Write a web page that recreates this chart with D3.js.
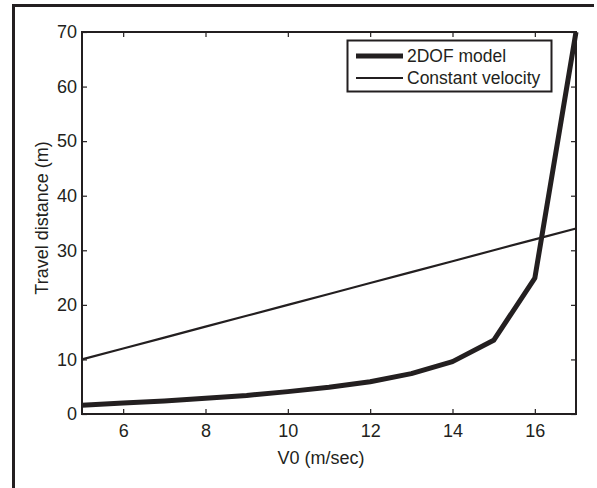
<!DOCTYPE html>
<html>
<head>
<meta charset="utf-8">
<script src="https://cdn.jsdelivr.net/npm/d3@7"></script>
<style>
  body { margin: 0; background: #fff; }
  svg { display: block; font-family: "Liberation Sans", Arial, sans-serif; }
  .tick text { font-size: 18px; fill: #231f20; }
</style>
</head>
<body>
<svg id="chart" width="597" height="488"></svg>
<script>
// data
var V0 = [5, 6, 7, 8, 9, 10, 11, 12, 13, 14, 15, 16, 17];
var DIST_2DOF = [1.6, 2.0, 2.4, 2.9, 3.4, 4.1, 4.9, 5.9, 7.4, 9.6, 13.5, 24.9, 70];
var DIST_CONST = [10, 12, 14, 16, 18, 20, 22, 24, 26, 28, 30, 32, 34];
var X_TICKS = [6, 8, 10, 12, 14, 16];
var Y_TICKS = [0, 10, 20, 30, 40, 50, 60, 70];
var SERIES_NAMES = ["2DOF model", "Constant velocity"];

var INK = "#231f20";
var LEFT = 82, RIGHT = 576, TOP = 32, BOTTOM = 414;
var TICK = 5;

var svg = d3.select("#chart");

// outer frame (only top and left edges show)
svg.append("path")
  .attr("d", "M13.5,490 L13.5,5.5 L594,5.5")
  .attr("fill", "none")
  .attr("stroke", INK)
  .attr("stroke-width", 3);

var x = d3.scaleLinear().domain([5, 17]).range([LEFT, RIGHT]);
var y = d3.scaleLinear().domain([0, 70]).range([BOTTOM, TOP]);

function style_axis(g) {
  g.select(".domain").remove();
  g.selectAll(".tick line").attr("stroke", INK).attr("stroke-width", 1.2);
}

// bottom axis (ticks point inward)
svg.append("g")
  .attr("transform", "translate(0," + BOTTOM + ")")
  .call(d3.axisBottom(x).tickValues(X_TICKS).tickSizeInner(-TICK).tickSizeOuter(0).tickPadding(10))
  .call(style_axis);

svg.append("g")
  .attr("transform", "translate(0," + TOP + ")")
  .call(d3.axisTop(x).tickValues(X_TICKS).tickSizeInner(-TICK).tickSizeOuter(0).tickFormat(""))
  .call(style_axis);

svg.append("g")
  .attr("transform", "translate(" + LEFT + ",0)")
  .call(d3.axisLeft(y).tickValues(Y_TICKS).tickSizeInner(-TICK).tickSizeOuter(0).tickPadding(5))
  .call(style_axis);

svg.append("g")
  .attr("transform", "translate(" + RIGHT + ",0)")
  .call(d3.axisRight(y).tickValues(Y_TICKS).tickSizeInner(-TICK).tickSizeOuter(0).tickFormat(""))
  .call(style_axis);

// plot box
svg.append("rect")
  .attr("x", LEFT).attr("y", TOP)
  .attr("width", RIGHT - LEFT).attr("height", BOTTOM - TOP)
  .attr("fill", "none")
  .attr("stroke", INK)
  .attr("stroke-width", 2);

// lines
var line_2dof = d3.line()
  .x(function (d, i) { return x(V0[i]); })
  .y(function (d) { return y(d); });

svg.append("path")
  .datum(DIST_CONST)
  .attr("d", line_2dof)
  .attr("fill", "none")
  .attr("stroke", INK)
  .attr("stroke-width", 2.2);

svg.append("path")
  .datum(DIST_2DOF)
  .attr("d", line_2dof)
  .attr("fill", "none")
  .attr("stroke", INK)
  .attr("stroke-width", 5)
  .attr("stroke-linejoin", "round");

// axis labels
svg.append("text")
  .attr("x", 321).attr("y", 464)
  .attr("text-anchor", "middle")
  .style("font-size", "18px")
  .attr("fill", INK)
  .text("V0 (m/sec)");

svg.append("text")
  .attr("transform", "translate(48,218) rotate(-90)")
  .attr("text-anchor", "middle")
  .style("font-size", "18px")
  .attr("fill", INK)
  .text("Travel distance (m)");

// legend
var legend = svg.append("g");
legend.append("rect")
  .attr("x", 347.5).attr("y", 40.5)
  .attr("width", 204).attr("height", 51)
  .attr("fill", "#fff")
  .attr("stroke", INK)
  .attr("stroke-width", 2);

var widths = [5, 2.2];
SERIES_NAMES.forEach(function (name, i) {
  var ly = 56 + i * 22;
  legend.append("line")
    .attr("x1", 356).attr("x2", 403)
    .attr("y1", ly).attr("y2", ly)
    .attr("stroke", INK)
    .attr("stroke-width", widths[i]);
  legend.append("text")
    .attr("x", 407).attr("y", ly + 6)
    .style("font-size", "17.5px")
    .attr("fill", INK)
    .text(name);
});
</script>
</body>
</html>
